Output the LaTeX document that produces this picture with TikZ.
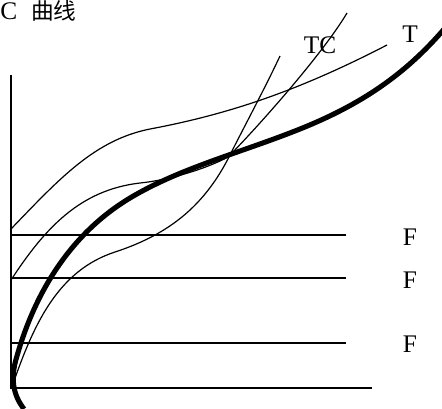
\documentclass[tikz,border=0pt]{standalone}
\usepackage{fontspec}
\setmainfont{Liberation Serif}
\newfontfamily\cjk{Noto Sans CJK SC}
\begin{document}
\begin{tikzpicture}[x=0.75pt,y=-0.75pt,
  axis/.style={line width=1.2pt},
  level/.style={line width=1.1pt},
  thin/.style={line width=0.9pt},
  thick/.style={line width=3.8pt},
  lbl/.style={font=\fontsize{19}{22}\selectfont, inner sep=0pt}]
\useasboundingbox (0,0) rectangle (442,408);
% axes
\draw[axis] (11,75) -- (11,388) -- (372,388);
% horizontal levels
\draw[level] (11,235) -- (346,235);
\draw[level] (11,278) -- (346,278);
\draw[level] (11,343) -- (346,343);
% curve 1
\draw[thin] (11,229) .. controls (60,178) and (95,140) .. (150,129)
                     .. controls (230,114) and (300,90) .. (387,45);
% curve 2
\draw[thin] (11,280) .. controls (45,228) and (80,190) .. (140,183)
                     .. controls (170,180) and (208,168) .. (228,157)
                     .. controls (255,130) and (322,55) .. (347,13);
% curve 3
\draw[thin] (13,384) .. controls (35,320) and (60,270) .. (115,252)
                     .. controls (170,234) and (205,205) .. (230,155)
                     .. controls (243,129) and (265,88) .. (280,56);
% thick curve
\draw[thick] (24,409) .. controls (13,395) and (10,378) .. (17,356)
                      .. controls (30,310) and (60,240) .. (130,198)
                      .. controls (180,168) and (240,153) .. (300,129)
                      .. controls (360,105) and (405,75) .. (445,28);
% labels
\node[font=\fontsize{19}{22}\selectfont, inner sep=0pt, anchor=base west] (title) at (0,19) {C};
\node[font=\fontsize{17}{20}\selectfont\cjk, inner sep=0pt, anchor=base west] (title2) at (31,19) {曲线};
\node[lbl] (tc) at (320,45) {TC};
\node[lbl] (t) at (410,34) {T};
\node[lbl] (f1) at (410,237) {F};
\node[lbl] (f2) at (410,280) {F};
\node[lbl] (f3) at (410,344) {F};
\end{tikzpicture}
\end{document}
